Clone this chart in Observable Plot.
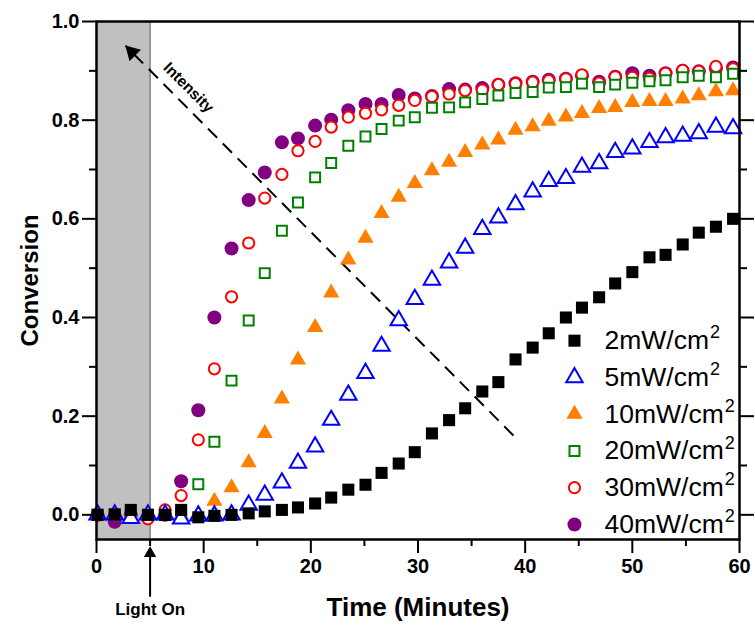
<!DOCTYPE html>
<html><head><meta charset="utf-8">
<script src="https://cdn.jsdelivr.net/npm/d3@7"></script>
<script src="https://cdn.jsdelivr.net/npm/@observablehq/plot@0.6"></script>
<style>body{margin:0;background:#fff;} #chart{width:755px;height:628px;}</style>
</head><body><div id="chart"></div>
<script>
// ---- data ----
const times = [0.1, 1.7, 3.2, 4.8, 6.4, 7.9, 9.5, 11.0, 12.6, 14.2, 15.7, 17.3, 18.8, 20.4, 21.9, 23.5, 25.1, 26.6, 28.2, 29.7, 31.3, 32.9, 34.4, 36.0, 37.5, 39.1, 40.7, 42.2, 43.8, 45.3, 46.9, 48.4, 50.0, 51.6, 53.1, 54.7, 56.2, 57.8, 59.4];
const conv2mW  = [0.0, 0.001, 0.01, 0.0, 0.0, 0.01, -0.005, -0.002, 0.0, 0.003, 0.007, 0.01, 0.015, 0.023, 0.035, 0.051, 0.061, 0.085, 0.104, 0.127, 0.165, 0.192, 0.216, 0.250, 0.269, 0.315, 0.339, 0.368, 0.400, 0.420, 0.441, 0.469, 0.492, 0.522, 0.527, 0.548, 0.572, 0.584, 0.600];
const conv5mW  = [0.0, 0.0, -0.007, 0.0, 0.0, -0.008, -0.002, -0.002, 0.0, 0.02, 0.04, 0.065, 0.105, 0.138, 0.192, 0.243, 0.287, 0.342, 0.394, 0.437, 0.476, 0.511, 0.541, 0.579, 0.602, 0.629, 0.655, 0.676, 0.682, 0.705, 0.712, 0.735, 0.742, 0.755, 0.765, 0.768, 0.773, 0.786, 0.783];
const conv10mW = [0, 0, 0, 0, 0, 0, 0, 0.028, 0.055, 0.106, 0.165, 0.235, 0.314, 0.380, 0.45, 0.517, 0.561, 0.611, 0.644, 0.672, 0.698, 0.715, 0.735, 0.750, 0.760, 0.780, 0.787, 0.798, 0.807, 0.814, 0.824, 0.826, 0.836, 0.838, 0.838, 0.843, 0.850, 0.858, 0.860];
const conv20mW = [0, 0, 0, 0, 0, 0, 0.062, 0.148, 0.272, 0.394, 0.49, 0.576, 0.633, 0.684, 0.713, 0.748, 0.767, 0.782, 0.799, 0.806, 0.825, 0.826, 0.836, 0.843, 0.850, 0.855, 0.857, 0.866, 0.867, 0.874, 0.867, 0.872, 0.876, 0.879, 0.881, 0.887, 0.890, 0.887, 0.894];
const conv30mW = [0.0, 0.0, 0.0, -0.008, 0.01, 0.039, 0.152, 0.296, 0.442, 0.551, 0.642, 0.690, 0.738, 0.757, 0.786, 0.806, 0.814, 0.821, 0.830, 0.840, 0.848, 0.853, 0.860, 0.861, 0.872, 0.874, 0.877, 0.880, 0.884, 0.892, 0.875, 0.888, 0.887, 0.885, 0.895, 0.901, 0.899, 0.909, 0.904];
const conv40mW = [0.0, -0.014, 0.0, -0.005, 0.0, 0.068, 0.212, 0.400, 0.540, 0.638, 0.694, 0.755, 0.763, 0.789, 0.801, 0.820, 0.833, 0.833, 0.851, 0.844, 0.849, 0.863, 0.862, 0.865, 0.872, 0.875, 0.878, 0.882, 0.884, 0.890, 0.878, 0.888, 0.895, 0.890, 0.895, 0.900, 0.899, 0.905, 0.907];
const seriesLabels = ["2mW/cm", "5mW/cm", "10mW/cm", "20mW/cm", "30mW/cm", "40mW/cm"];
const xMajorTicks = [0, 10, 20, 30, 40, 50, 60];
const xMinorTicks = [5, 15, 25, 35, 45, 55];
const yMajorTicks = [0.0, 0.2, 0.4, 0.6, 0.8, 1.0];
const yMinorTicks = [0.1, 0.3, 0.5, 0.7, 0.9];
const lightOnTime = 5;
const xLabel = "Time (Minutes)";
const yLabel = "Conversion";

// ---- styles (kept apart from data) ----
const seriesValues = [conv2mW, conv5mW, conv10mW, conv20mW, conv30mW, conv40mW];
const styles = [
  {symbol: "square",   r: 6.8, fill: "#000000", stroke: "none",    sw: 0},
  {symbol: "triangle", r: 6.1, fill: "white",   stroke: "#0000ff", sw: 2},
  {symbol: "triangle", r: 6.0, fill: "#ff8000", stroke: "none",    sw: 0},
  {symbol: "square",   r: 5.6, fill: "white",   stroke: "#008000", sw: 2},
  {symbol: "circle",   r: 5.6, fill: "white",   stroke: "#ff0000", sw: 2},
  {symbol: "circle",   r: 7.0, fill: "#800080", stroke: "none",    sw: 0}
];
const font = "'Liberation Sans', Arial, sans-serif";
const legendX = 44.6, legendTextX = 47.4, legendY0 = 0.353, legendStep = 0.0745;
const legendFont = 26.5, supFont = 18;

const ctx = document.createElement("canvas").getContext("2d");
ctx.font = `${legendFont}px ${font}`;

const seriesMarks = [];
for (let k = seriesValues.length - 1; k >= 0; k--) {
  const rows = times.map((t, i) => ({t, v: seriesValues[k][i]}));
  const s = styles[k];
  seriesMarks.push(Plot.dot(rows, {x: "t", y: "v", symbol: s.symbol, r: s.r, fill: s.fill, stroke: s.stroke, strokeWidth: s.sw}));
}
const legendMarks = [];
seriesLabels.forEach((lab, k) => {
  const s = styles[k];
  const ly = legendY0 - k * legendStep;
  legendMarks.push(Plot.dot([{x: legendX, y: ly}], {x: "x", y: "y", symbol: s.symbol, r: s.r, fill: s.fill, stroke: s.stroke, strokeWidth: s.sw}));
  legendMarks.push(Plot.text([{x: legendTextX, y: ly, t: lab}], {x: "x", y: "y", text: "t", textAnchor: "start", fontSize: legendFont, fill: "black"}));
  const w = ctx.measureText(lab).width;
  legendMarks.push(Plot.text([{x: legendTextX, y: ly, t: "2"}], {x: "x", y: "y", text: "t", textAnchor: "start", fontSize: supFont, dx: w + 1, dy: -8, fill: "black"}));
});

const intensityTip = {x: 2.7, y: 0.951}, intensityEnd = {x: 39.4, y: 0.150};

const chart = Plot.plot({
  width: 755, height: 628,
  marginLeft: 96, marginRight: 16, marginTop: 21, marginBottom: 89,
  x: {domain: [0, 60], axis: null},
  y: {domain: [-0.05, 1.0], axis: null},
  style: {fontFamily: font, background: "white", color: "black", overflow: "visible"},
  marks: [
    Plot.rect([{x1: 0, x2: lightOnTime}], {x1: "x1", x2: "x2", y1: -0.05, y2: 1.0, fill: "#c0c0c0"}),
    Plot.ruleX([lightOnTime], {y1: -0.05, y2: 1.0, stroke: "#7a7a7a", strokeWidth: 1.5}),
    Plot.link([{a: intensityTip, b: intensityEnd}], {x1: d => d.a.x, y1: d => d.a.y, x2: d => d.b.x, y2: d => d.b.y, stroke: "black", strokeWidth: 2, strokeDasharray: "13,8", strokeDashoffset: -12}),
    Plot.dot([intensityTip], {x: "x", y: "y", symbol: "triangle", r: 6, fill: "black", rotate: -45, dx: 6.5, dy: 6.5}),
    Plot.text(["Intensity"], {x: 8.58, y: 0.866, rotate: 45, fontSize: 15.5, fontWeight: "bold", fill: "black"}),
    ...seriesMarks,
    ...legendMarks,
    Plot.axisX({ticks: xMajorTicks, tickSize: 14, tickPadding: 5, tickFormat: d => String(d), fontSize: 20, fontWeight: "bold", label: null, strokeWidth: 2}),
    Plot.axisX({ticks: xMinorTicks, tickSize: 7, tickFormat: () => "", label: null, strokeWidth: 2}),
    Plot.axisY({anchor: "left", ticks: yMajorTicks, tickSize: 14, tickPadding: 3, tickFormat: d3.format(".1f"), fontSize: 20, fontWeight: "bold", label: null, strokeWidth: 2}),
    Plot.axisY({anchor: "left", ticks: yMinorTicks, tickSize: 7, tickFormat: () => "", label: null, strokeWidth: 2}),
    Plot.axisY({anchor: "right", ticks: yMajorTicks, tickSize: 14, tickFormat: () => "", label: null, strokeWidth: 2}),
    Plot.axisY({anchor: "right", ticks: yMinorTicks, tickSize: 7, tickFormat: () => "", label: null, strokeWidth: 2}),
    Plot.frame({stroke: "black", strokeWidth: 2.5}),
    Plot.text([xLabel], {frameAnchor: "bottom", dy: 68, lineAnchor: "middle", textAnchor: "middle", fontSize: 26, fontWeight: "bold", fill: "black"}),
    Plot.text([yLabel], {frameAnchor: "left", dx: -66, rotate: -90, textAnchor: "middle", lineAnchor: "middle", fontSize: 24, fontWeight: "bold", fill: "black"}),
    Plot.link([lightOnTime], {x1: d => d, x2: d => d, y1: -0.166, y2: -0.085, stroke: "black", strokeWidth: 2}),
    Plot.dot([lightOnTime], {x: d => d, y: -0.078, symbol: "triangle", r: 4.6, fill: "black"}),
    Plot.text(["Light On"], {x: lightOnTime, y: -0.191, fontSize: 17, fontWeight: "bold", fill: "black"})
  ]
});
document.getElementById("chart").appendChild(chart);
</script>
</body></html>
